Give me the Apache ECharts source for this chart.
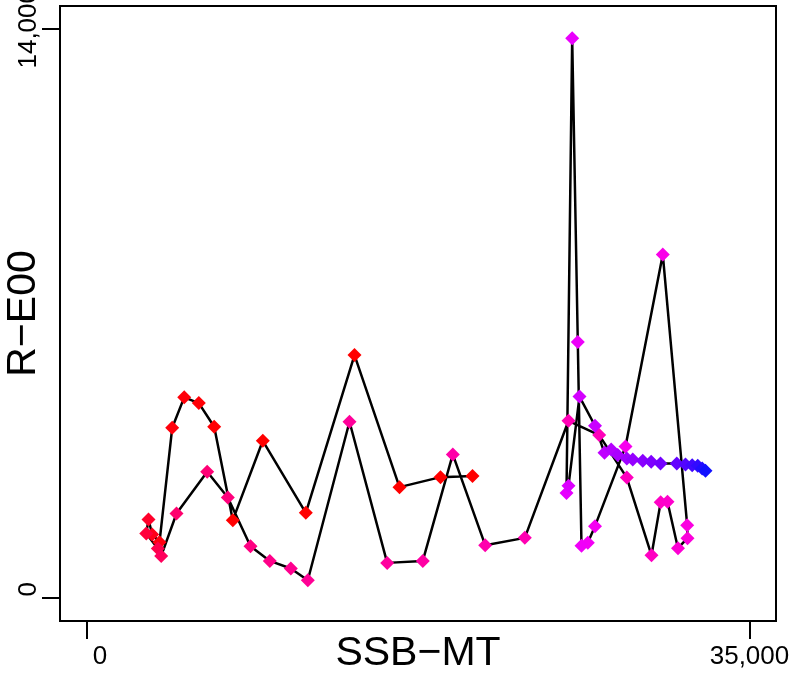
<!DOCTYPE html>
<html>
<head>
<meta charset="utf-8">
<script src="https://cdn.jsdelivr.net/npm/echarts@6/dist/echarts.min.js"></script>
<style>
  html, body { margin: 0; padding: 0; background: #fff; }
  #chart { width: 791px; height: 675px; }
</style>
</head>
<body>
<div id="chart"></div>
<script>
// SSB (x) and recruits (y), in the order the line joins them (oldest first)
const ssb = [
  20377, 18688, 16523, 14148, 11577, 9307, 7723, 6741, 5928, 5158, 4524, 3854,
  3468, 3273, 3152, 3764, 3943,
  4751, 6372, 7459, 8658, 9676, 10785, 11682,
  13884, 15874, 17753, 19337, 21047, 23138,
  25445, 27065, 28523, 29826, 30312, 30671, 31225, 31727, 31711,
  30423, 28454, 26844, 26464, 26131, 25936, 25640, 25339, 25445, 26025, 26844,
  27345, 27699, 28047, 28523, 28839, 29367, 29811, 30301, 31162, 31621, 31975, 32270, 32503, 32677
];
const recruits = [
  3002, 2977, 2731, 5979, 2099, 3870, 1919, 4215, 4798, 4938, 4190, 1378,
  1567, 1936, 1592, 1223, 1041,
  2084, 3108, 2478, 1279, 918, 731, 443,
  4338, 869, 918, 3536, 1304, 1484,
  4362, 4011, 2965, 1058, 2362, 2374, 1230, 1476, 1796,
  8452, 3728, 1772, 1366, 1292, 6299, 13767, 2584, 2768, 4958, 4240,
  3575, 3659, 3519, 3437, 3413, 3378, 3354, 3314, 3314, 3290, 3272, 3255, 3191, 3132
];
const xTicks = [0, 35000];
const yTicks = [0, 14000];

const points = ssb.map((x, i) => [x, recruits[i], i]);
const font = '"Liberation Sans", Arial, sans-serif';

const chart = echarts.init(document.getElementById('chart'));

const option = {
  animation: false,
  backgroundColor: '#fff',
  grid: {
    left: 60, right: 15, top: 6, bottom: 54,
    containLabel: false,
    outerBoundsMode: 'none',
    show: true, borderColor: '#000', borderWidth: 2
  },
  visualMap: {
    show: false,
    seriesIndex: 1,
    dimension: 2,
    min: 0,
    max: ssb.length - 1,
    inRange: {
      color: ['#ff0000', '#ff0000', '#ff0010', '#ff0070', '#ff0095', '#ff00b0',
              '#ff00c8', '#f800f0', '#e800ff', '#b000ff', '#7000ff', '#1010ff']
    }
  },
  xAxis: {
    type: 'value',
    min: -1400, max: 36400,
    name: 'SSB−MT',
    nameLocation: 'middle',
    nameGap: 12,
    nameMoveOverlap: false,
    nameTextStyle: { fontSize: 41, color: '#000', fontFamily: font },
    axisLine: { show: false, onZero: false },
    splitLine: { show: false },
    axisTick: {
      show: true, customValues: xTicks, length: 18,
      lineStyle: { color: '#000', width: 2 }
    },
    axisLabel: {
      customValues: xTicks,
      margin: 23,
      fontSize: 26,
      color: '#000',
      fontFamily: font,
      formatter: v => v === 0 ? '{z|0}' : v.toLocaleString('en-US'),
      rich: { z: { padding: [0, 0, 0, 27], fontSize: 26, fontFamily: font, color: '#000' } }
    }
  },
  yAxis: {
    type: 'value',
    min: -560, max: 14560,
    name: 'R−E00',
    nameLocation: 'middle',
    nameRotate: 90,
    nameGap: 16,
    nameMoveOverlap: false,
    nameTextStyle: { fontSize: 41, color: '#000', fontFamily: font },
    axisLine: { show: false, onZero: false },
    splitLine: { show: false },
    axisTick: {
      show: true, customValues: yTicks, length: 18,
      lineStyle: { color: '#000', width: 2 }
    },
    axisLabel: {
      customValues: yTicks,
      rotate: 90,
      margin: 18,
      fontSize: 26,
      color: '#000',
      fontFamily: font,
      formatter: v => v === 0 ? '{z|0}' : v.toLocaleString('en-US'),
      rich: { z: { padding: [0, 0, 0, 18], fontSize: 26, fontFamily: font, color: '#000' } }
    }
  },
  series: [
    {
      type: 'line',
      data: points,
      showSymbol: false,
      symbol: 'none',
      lineStyle: { color: '#000', width: 2.5 },
      z: 2
    },
    {
      type: 'scatter',
      data: points,
      symbol: 'diamond',
      symbolSize: 14,
      itemStyle: { opacity: 1 },
      z: 3
    }
  ]
};

chart.setOption(option);
</script>
</body>
</html>
